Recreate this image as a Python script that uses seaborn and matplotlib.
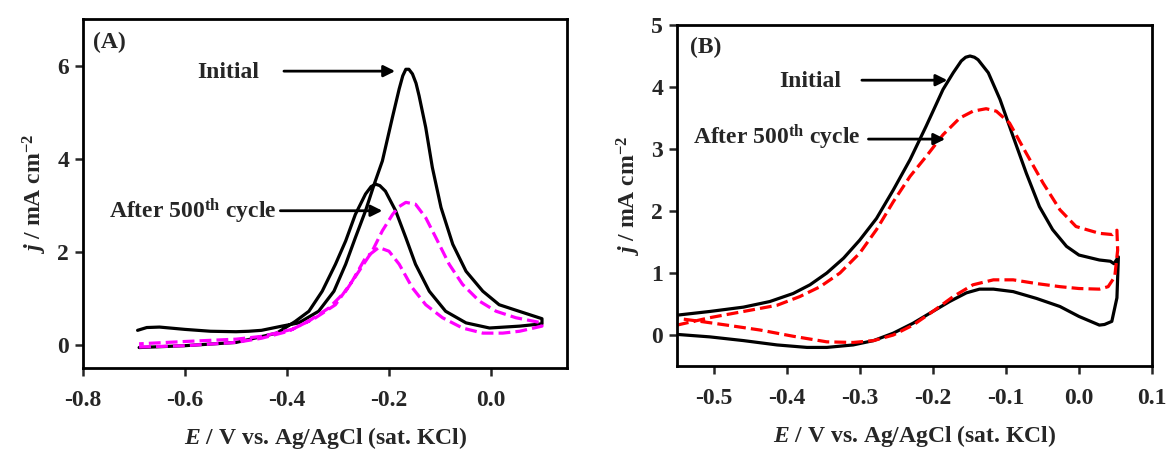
import numpy as np
import pandas as pd
import matplotlib
matplotlib.use("Agg")
import matplotlib.pyplot as plt
import seaborn as sns

# ---- Panel A data ----
a_init_fwd_E = [-0.693, -0.675, -0.65, -0.6, -0.55, -0.5, -0.475, -0.45, -0.41, -0.377, -0.338, -0.308,
                -0.285, -0.266, -0.246, -0.229, -0.213, -0.193, -0.18, -0.173, -0.167, -0.161, -0.154,
                -0.147, -0.141, -0.128, -0.115, -0.098, -0.075, -0.049, -0.016, 0.016, 0.055, 0.1]
a_init_fwd_j = [0.31, 0.37, 0.38, 0.33, 0.29, 0.28, 0.29, 0.31, 0.40, 0.47, 0.72, 1.15,
                1.73, 2.30, 2.88, 3.45, 3.95, 4.90, 5.50, 5.78, 5.92, 5.92, 5.82,
                5.62, 5.35, 4.67, 3.81, 2.95, 2.16, 1.58, 1.15, 0.86, 0.72, 0.56]
a_init_rev_E = [0.1, 0.056, -0.003, -0.049, -0.089, -0.121, -0.148, -0.167, -0.187, -0.207, -0.218,
                -0.226, -0.235, -0.246, -0.266, -0.285, -0.305, -0.331, -0.357, -0.384, -0.42, -0.5,
                -0.6, -0.69]
a_init_rev_j = [0.45, 0.40, 0.36, 0.47, 0.72, 1.15, 1.73, 2.30, 2.88, 3.30, 3.42,
                3.45, 3.40, 3.24, 2.80, 2.23, 1.73, 1.15, 0.72, 0.50, 0.25, 0.05,
                -0.02, -0.06]

a_cyc_fwd_E = [-0.69, -0.6, -0.5, -0.45, -0.397, -0.357, -0.318, -0.285, -0.259, -0.233, -0.213,
               -0.193, -0.18, -0.167, -0.148, -0.128, -0.108, -0.082, -0.056, -0.023, 0.01, 0.049, 0.1]
a_cyc_fwd_j = [-0.05, -0.02, 0.05, 0.14, 0.29, 0.51, 0.79, 1.15, 1.58, 2.01, 2.45,
               2.80, 2.97, 3.06, 3.02, 2.73, 2.30, 1.73, 1.30, 0.94, 0.72, 0.58, 0.47]
a_cyc_rev_E = [0.1, 0.056, 0.023, -0.016, -0.056, -0.095, -0.128, -0.154, -0.18, -0.2, -0.22,
               -0.246, -0.272, -0.305, -0.344, -0.39, -0.45, -0.5, -0.6, -0.69]
a_cyc_rev_j = [0.40, 0.29, 0.25, 0.25, 0.36, 0.58, 0.86, 1.22, 1.73, 2.01, 2.09,
               1.87, 1.37, 0.86, 0.58, 0.33, 0.18, 0.12, 0.07, 0.02]

# ---- Panel B data ----
b_init_fwd_E = [-0.55, -0.505, -0.459, -0.423, -0.391, -0.368, -0.345, -0.322, -0.3, -0.277, -0.254,
                -0.231, -0.209, -0.186, -0.172, -0.161, -0.155, -0.149, -0.143, -0.138, -0.124, -0.108,
                -0.09, -0.072, -0.054, -0.036, -0.017, 0.0, 0.028, 0.043, 0.048, 0.054]
b_init_fwd_j = [0.32, 0.38, 0.45, 0.54, 0.67, 0.81, 1.00, 1.24, 1.53, 1.88, 2.34,
                2.83, 3.37, 3.96, 4.23, 4.42, 4.48, 4.50, 4.48, 4.44, 4.23, 3.80,
                3.20, 2.61, 2.07, 1.70, 1.43, 1.29, 1.21, 1.19, 1.15, 1.26]
b_init_rev_E = [0.052, 0.045, 0.035, 0.028, 0.0, -0.026, -0.058, -0.09, -0.117, -0.136, -0.154,
                -0.177, -0.2, -0.227, -0.254, -0.281, -0.309, -0.345, -0.372, -0.413, -0.459,
                -0.505, -0.55]
b_init_rev_j = [0.60, 0.22, 0.17, 0.16, 0.30, 0.46, 0.59, 0.70, 0.74, 0.74, 0.68,
                0.54, 0.38, 0.19, 0.03, -0.09, -0.16, -0.20, -0.20, -0.16, -0.09,
                -0.03, 0.01]

b_cyc_fwd_E = [-0.55, -0.505, -0.459, -0.413, -0.382, -0.354, -0.327, -0.3, -0.277, -0.254, -0.231,
               -0.209, -0.186, -0.163, -0.145, -0.127, -0.113, -0.095, -0.072, -0.049, -0.026,
               -0.004, 0.028, 0.046, 0.052]
b_cyc_fwd_j = [0.16, 0.28, 0.38, 0.48, 0.62, 0.78, 1.00, 1.32, 1.70, 2.15, 2.56,
               2.88, 3.23, 3.50, 3.61, 3.65, 3.61, 3.42, 2.93, 2.45, 2.02,
               1.75, 1.64, 1.62, 1.69]
b_cyc_rev_E = [0.053, 0.049, 0.04, 0.028, 0.0, -0.026, -0.058, -0.09, -0.117, -0.145, -0.172,
               -0.2, -0.227, -0.254, -0.281, -0.309, -0.345, -0.391, -0.436, -0.482, -0.518, -0.55]
b_cyc_rev_j = [1.37, 0.94, 0.78, 0.74, 0.75, 0.78, 0.83, 0.89, 0.89, 0.81, 0.62,
               0.38, 0.16, 0.00, -0.09, -0.12, -0.11, -0.02, 0.08, 0.16, 0.22, 0.27]

a_xticks = [-0.8, -0.6, -0.4, -0.2, 0.0]
b_xticks = [-0.5, -0.4, -0.3, -0.2, -0.1, 0.0, 0.1]
a_yticks = [0, 2, 4, 6]
b_yticks = [0, 1, 2, 3, 4, 5]


def loop(fE, fj, rE, rj):
    return pd.DataFrame({"E": list(fE) + list(rE), "j": list(fj) + list(rj)})


sns.set_style("ticks")
plt.rcParams["font.family"] = ["Liberation Serif", "DejaVu Serif"]
plt.rcParams["font.weight"] = "bold"
plt.rcParams["mathtext.fontset"] = "custom"
plt.rcParams["mathtext.rm"] = "Liberation Serif:bold"
plt.rcParams["mathtext.it"] = "Liberation Serif:italic:bold"
plt.rcParams["mathtext.bf"] = "Liberation Serif:bold"
plt.rcParams["axes.unicode_minus"] = False

fig = plt.figure(figsize=(11.66, 4.53), dpi=100)
axA = fig.add_axes([0.0712, 0.1876, 0.4155, 0.7704])
axB = fig.add_axes([0.5806, 0.192, 0.4074, 0.7528])

lw = 2.3
sns.lineplot(data=loop(a_init_fwd_E, a_init_fwd_j, a_init_rev_E, a_init_rev_j), x="E", y="j",
             sort=False, estimator=None, color="black", lw=lw, ax=axA)
sns.lineplot(data=loop(a_cyc_fwd_E, a_cyc_fwd_j, a_cyc_rev_E, a_cyc_rev_j), x="E", y="j",
             sort=False, estimator=None, color="#FF00FF", lw=lw, linestyle="--", ax=axA)
sns.lineplot(data=loop(b_init_fwd_E, b_init_fwd_j, b_init_rev_E, b_init_rev_j), x="E", y="j",
             sort=False, estimator=None, color="black", lw=lw, ax=axB)
sns.lineplot(data=loop(b_cyc_fwd_E, b_cyc_fwd_j, b_cyc_rev_E, b_cyc_rev_j), x="E", y="j",
             sort=False, estimator=None, color="#FF0000", lw=lw, linestyle="--", ax=axB)

fs = 17

for ax, xt, yt, xl, yl in [(axA, a_xticks, a_yticks, (-0.8, 0.15), (-0.5, 7)),
                           (axB, b_xticks, b_yticks, (-0.55, 0.1), (-0.5, 5))]:
    ax.set_xlim(*xl)
    ax.set_ylim(*yl)
    ax.set_xticks(xt)
    ax.set_xticklabels([f"{v:.1f}" for v in xt])
    ax.set_yticks(yt)
    ax.set_yticklabels([str(v) for v in yt])
    ax.tick_params(direction="out", length=6, width=1.8, labelsize=fs)
    ax.tick_params(axis="x", pad=10)
    ax.tick_params(axis="y", pad=4)
    for s in ax.spines.values():
        s.set_linewidth(2)
        s.set_color("black")
    ax.set_xlabel(r"$E$ / V vs. Ag/AgCl (sat. KCl)", fontsize=fs, fontweight="bold", labelpad=10)
    ax.set_ylabel(r"$j$ / mA cm$^{-2}$", fontsize=fs, fontweight="bold", labelpad=6)

arrow = dict(arrowstyle="-|>", color="black", lw=2, mutation_scale=17, shrinkA=0, shrinkB=0)

axA.text(-0.748, 6.49, "(A)", fontsize=fs, fontweight="bold", ha="center", va="center")
axA.text(-0.515, 5.86, "Initial", fontsize=fs, fontweight="bold", ha="center", va="center")
axA.annotate("", xy=(-0.188, 5.88), xytext=(-0.406, 5.88), arrowprops=arrow)
axA.text(-0.584, 2.86, r"After 500$^{\mathrm{th}}$ cycle", fontsize=fs, fontweight="bold",
         ha="center", va="center")
axA.annotate("", xy=(-0.213, 2.88), xytext=(-0.413, 2.88), arrowprops=arrow)

axB.text(-0.511, 4.63, "(B)", fontsize=fs, fontweight="bold", ha="center", va="center")
axB.text(-0.368, 4.09, "Initial", fontsize=fs, fontweight="bold", ha="center", va="center")
axB.annotate("", xy=(-0.18, 4.11), xytext=(-0.297, 4.11), arrowprops=arrow)
axB.text(-0.413, 3.19, r"After 500$^{\mathrm{th}}$ cycle", fontsize=fs, fontweight="bold",
         ha="center", va="center")
axB.annotate("", xy=(-0.183, 3.16), xytext=(-0.288, 3.16), arrowprops=arrow)

fig.savefig("out.png", dpi=100)
